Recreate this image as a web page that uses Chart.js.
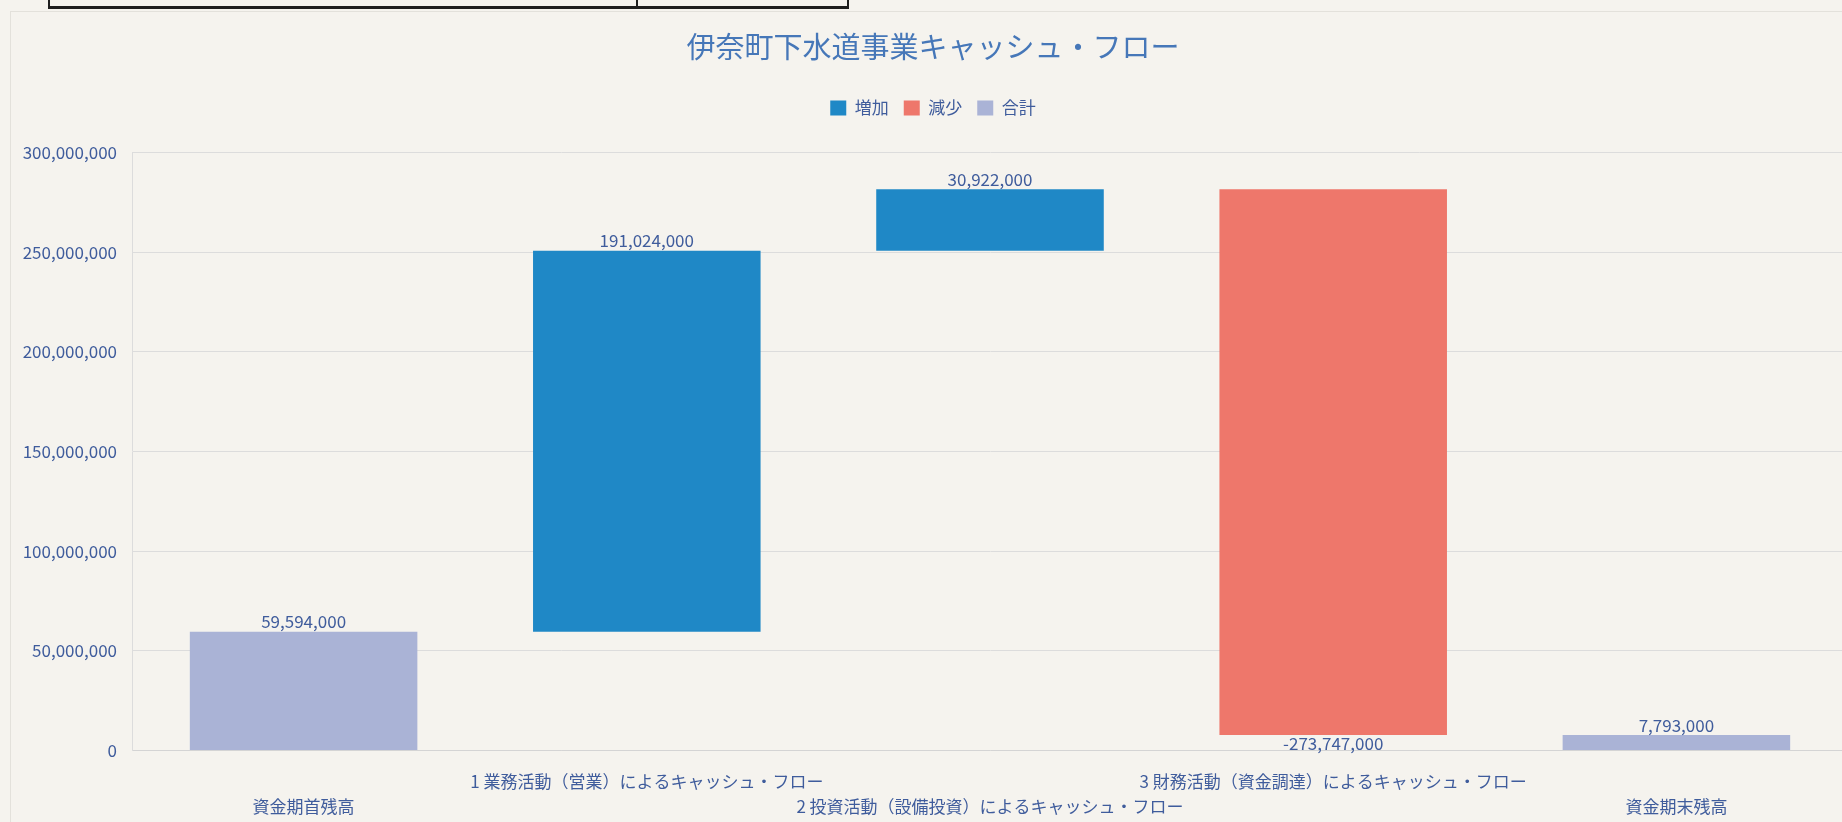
<!DOCTYPE html>
<html>
<head>
<meta charset="utf-8">
<script src="https://cdn.jsdelivr.net/npm/chart.js@4.4.1/dist/chart.umd.min.js"></script>
<style>
  html, body { margin: 0; padding: 0; background: #f5f3ee; overflow: hidden; width: 1842px; height: 822px; }
  #frame { position: absolute; left: 10px; top: 11px; width: 1900px; height: 900px; border: 1px solid #e3e1db; }
  .tbl { position: absolute; left: 48px; top: -12px; width: 797px; height: 16px; border: 2px solid #1e1e1e; border-bottom-width: 3px; }
  .tbl-v { position: absolute; left: 636px; top: -12px; width: 2px; height: 19px; background: #1e1e1e; }
  #wrap { position: absolute; left: 0; top: 0; width: 1848px; height: 822px; }
</style>
</head>
<body>
<div id="frame"></div>
<div class="tbl"></div><div class="tbl-v"></div>
<div id="wrap"><canvas id="c" width="1848" height="822" style="width:1848px;height:822px"></canvas></div>
<script>
// ---- data ----
const chartTitle = '伊奈町下水道事業キャッシュ・フロー';
const categories = [
  '資金期首残高',
  '1 業務活動（営業）によるキャッシュ・フロー',
  '2 投資活動（設備投資）によるキャッシュ・フロー',
  '3 財務活動（資金調達）によるキャッシュ・フロー',
  '資金期末残高'
];
const changes = [59594000, 191024000, 30922000, -273747000, 7793000];
const kinds = ['合計', '増加', '増加', '減少', '合計'];
const seriesNames = ['増加', '減少', '合計'];
const seriesColors = ['#1f88c6', '#ee776b', '#aab3d6'];
const yTickValues = [0, 50000000, 100000000, 150000000, 200000000, 250000000, 300000000];

// ---- build floating spans for the waterfall ----
let running = 0;
const spans = changes.map((v, i) => {
  if (kinds[i] === '合計') { running = v; return [0, v]; }
  const s = running; running += v; return [s, running];
});

const fontFamily = '"Noto Sans CJK JP", "Noto Sans", sans-serif';
const textColor = '#3f5c9c';
Chart.defaults.font.family = fontFamily;
Chart.defaults.color = textColor;

const fmt = v => String(v).replace(/\B(?=(\d{3})+(?!\d))/g, ',');

const valueLabels = {
  id: 'valueLabels',
  afterDatasetsDraw(chart) {
    const ctx = chart.ctx;
    ctx.save();
    ctx.font = '17px ' + fontFamily;
    ctx.fillStyle = textColor;
    ctx.textAlign = 'center';
    ctx.textBaseline = 'middle';
    chart.data.datasets.forEach((ds, di) => {
      const meta = chart.getDatasetMeta(di);
      meta.data.forEach((bar, i) => {
        if (ds.data[i] == null) return;
        const v = changes[i];
        const top = Math.min(bar.y, bar.base), bottom = Math.max(bar.y, bar.base);
        if (v < 0) ctx.fillText(fmt(v), bar.x, bottom + 8);
        else ctx.fillText(fmt(v), bar.x, top - 10);
      });
    });
    ctx.restore();
  }
};

const legendGap = {
  id: 'legendGap',
  beforeLayout(chart) {
    const l = chart.legend;
    if (l && !l._gapPatched) {
      const f = l.fit;
      l.fit = function () { f.call(this); this.height += 26; };
      l._gapPatched = true;
    }
  }
};

const datasets = seriesNames.map((name, k) => ({
  label: name,
  data: spans.map((s, i) => kinds[i] === name ? s : null),
  backgroundColor: seriesColors[k],
  borderWidth: 0,
  grouped: false,
  categoryPercentage: 1,
  barPercentage: 0.663
}));

new Chart(document.getElementById('c'), {
  type: 'bar',
  data: { labels: categories, datasets },
  plugins: [valueLabels, legendGap],
  options: {
    responsive: false,
    animation: false,
    layout: { padding: { left: 18, right: 0, top: 0, bottom: 0 } },
    plugins: {
      title: {
        display: true,
        text: chartTitle,
        color: '#4677b8',
        font: { size: 29, weight: 'normal', lineHeight: 1.2 },
        padding: { top: 29.6, bottom: 20 }
      },
      legend: {
        display: true,
        position: 'top',
        labels: {
          boxWidth: 16, boxHeight: 15, padding: 15,
          color: textColor,
          font: { size: 17 }
        }
      },
      tooltip: { enabled: false }
    },
    scales: {
      x: {
        grid: { display: false, drawTicks: false },
        border: { display: true, color: '#d4d4d4' },
        ticks: {
          autoSkip: false, maxRotation: 0, minRotation: 0,
          padding: 18,
          color: textColor,
          font: { size: 17, lineHeight: 25 / 17 },
          callback: (val, i) => i % 2 === 0 ? ['', categories[i]] : [categories[i], '']
        },
        afterFit(s) { s.height = 71.4; }
      },
      y: {
        min: 0, max: 300000000,
        afterBuildTicks(scale) { scale.ticks = yTickValues.map(v => ({ value: v })); },
        grid: { color: '#dcdcdc', drawTicks: false },
        border: { display: true, color: '#dcdcdc' },
        ticks: {
          padding: 15,
          color: textColor,
          font: { size: 17 },
          callback: v => fmt(v)
        },
        afterFit(s) { s.width = 114; }
      }
    }
  }
});
</script>
</body>
</html>
